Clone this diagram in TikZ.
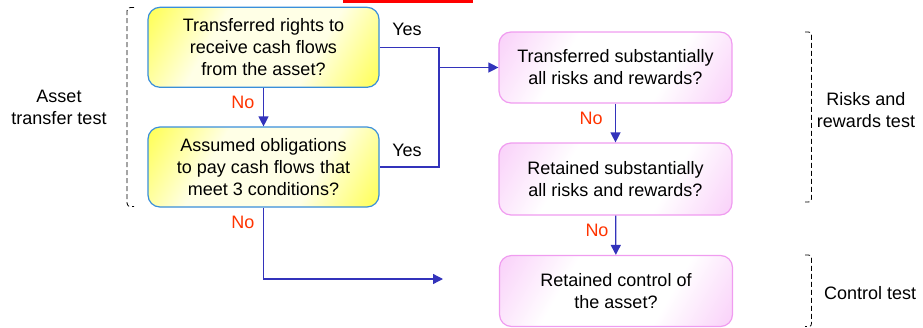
\documentclass[tikz,border=0pt]{standalone}
\usepackage{fontspec}
\setmainfont{Liberation Sans}
\usetikzlibrary{arrows.meta}
\definecolor{arrblue}{HTML}{3333BB}
\definecolor{ybord}{HTML}{3A8FDA}
\definecolor{pbord}{HTML}{F09CF0}
\definecolor{pinkf}{HTML}{F7BEF7}
\definecolor{yelf}{HTML}{FFFF1A}
\definecolor{ypale}{HTML}{FFFFE6}
\definecolor{nored}{HTML}{FF3300}
\pgfdeclareverticalshading{yshade}{100bp}{color(0bp)=(yelf); color(8bp)=(yelf); color(36bp)=(ypale); color(64bp)=(ypale); color(92bp)=(yelf); color(100bp)=(yelf)}
\pgfdeclareverticalshading{pshade}{100bp}{color(0bp)=(pinkf); color(8bp)=(pinkf); color(36bp)=(white); color(64bp)=(white); color(92bp)=(pinkf); color(100bp)=(pinkf)}
\tikzset{
  ybox/.style={draw=ybord, line width=1.2pt, rounded corners=12pt, align=center,
    minimum width=231pt, inner sep=0pt, shading=yshade, shading angle=60},
  pbox/.style={draw=pbord, line width=1.2pt, rounded corners=12pt, align=center,
    minimum width=233pt, inner sep=0pt, shading=pshade, shading angle=60},
  conn/.style={draw=arrblue, line width=1.3pt},
  arr/.style={conn, -{Triangle[length=10pt,width=10pt]}},
  nolab/.style={text=nored},
  brk/.style={draw=black, line width=0.8pt, dash pattern=on 5pt off 3pt},
  txt/.style={align=center, inner sep=0pt}
}
\begin{document}
\begin{tikzpicture}[x=1pt, y=-1pt, font=\fontsize{18}{22}\selectfont]
\useasboundingbox (0,0) rectangle (923,327);
\fill[red] (343,0) rectangle (473,2.5);
% boxes
\node[ybox, minimum height=80pt] (b1) at (263.5,47.3) {Transferred rights to\\receive cash flows\\from the asset?};
\node[ybox, minimum height=80pt] (b2) at (263.5,167) {Assumed obligations\\to pay cash flows that\\meet 3 conditions?};
\node[pbox, minimum height=71pt] (b3) at (615.5,67.5) {Transferred substantially\\all risks and rewards?};
\node[pbox, minimum height=72pt] (b4) at (615.5,179) {Retained substantially\\all risks and rewards?};
\node[pbox, minimum height=71pt] (b5) at (616,291) {Retained control of\\the asset?};
% connectors
\coordinate (j) at (439,67.5);
\coordinate (e) at (443,279);
\draw[arr] (b1) -- (b2);
\draw[conn] (b1.east) -- (b1.east -| j) -- (b2.east -| j) -- (b2.east);
\draw[arr] (j) -- (b3.west);
\draw[arr] (b3) -- (b4);
\draw[arr] (b4) -- (b5);
\draw[arr] (b2.south) |- (e);
% labels
\node[txt] (y1) at (407,29) {Yes};
\node[txt] (y2) at (407,150) {Yes};
\node[txt, nolab] (n1) at (243,102) {No};
\node[txt, nolab] (n2) at (591,118) {No};
\node[txt, nolab] (n3) at (597,230) {No};
\node[txt, nolab] (n4) at (243,222) {No};
% brackets
\draw[brk] (134,7.5) .. controls (128,7.5) .. (127,11) -- (127,203) .. controls (128,206.5) .. (134,206.5);
\draw[brk] (805,32) .. controls (811,32) .. (811.5,35.5) -- (811.5,198.5) .. controls (811,202) .. (805,202);
\draw[brk] (805,255) .. controls (811,255) .. (811.5,258.5) -- (811.5,323) .. controls (811,326.5) .. (805,326.5);
\node[txt] (t1) at (59,107.5) {Asset\\transfer test};
\node[txt] (t2) at (866,110) {Risks and\\rewards test};
\node[txt, anchor=west] (t3) at (824,293) {Control test};
\end{tikzpicture}
\end{document}
